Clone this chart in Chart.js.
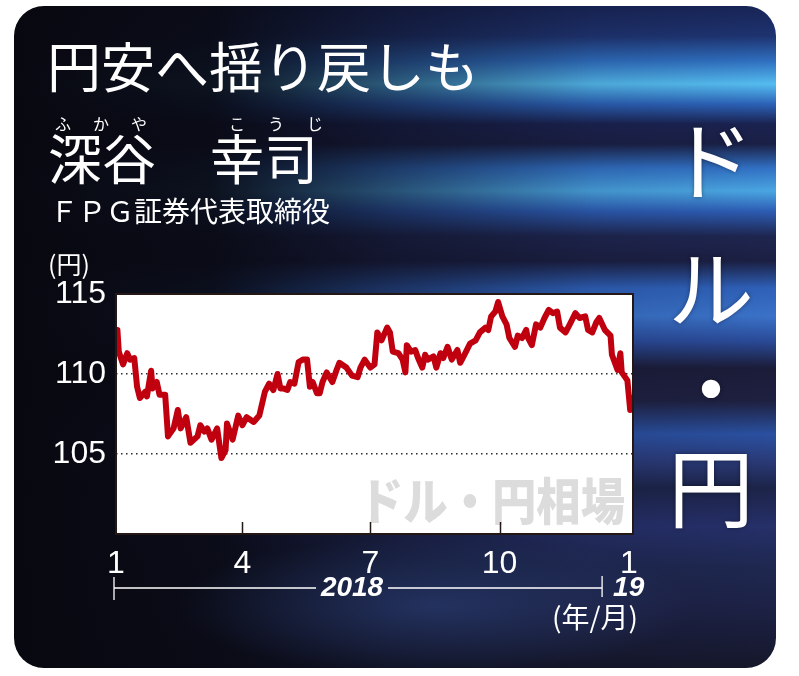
<!DOCTYPE html>
<html>
<head>
<meta charset="utf-8">
<script src="https://cdn.jsdelivr.net/npm/chart.js@4.4.1/dist/chart.umd.min.js"></script>
<style>
  body { margin: 0; background: #fff; }
  #wrap { position: relative; width: 799px; height: 676px; overflow: hidden; }
  #bg {
    position: absolute; left: 14px; top: 6px; width: 762px; height: 662px; border-radius: 30px;
    background:
      radial-gradient(ellipse 260px 70px at 420px 600px, rgba(46,70,130,0.55), rgba(46,70,130,0)),
      linear-gradient(to right, rgba(8,8,16,1) 0%, rgba(9,10,20,0.95) 26%, rgba(12,14,30,0.55) 50%, rgba(12,14,30,0.12) 76%, rgba(12,14,30,0) 100%),
      linear-gradient(to bottom, #182456 0px, #1e3370 30px, #2f6fc0 55px, #55bdf0 78px, #2c62b8 98px, #1a2250 118px, #1a2045 138px,
        #3170c4 162px, #4aa6e2 185px, #2d5db5 205px, #1e2650 230px, #1b1f42 255px, #2e60b8 282px, #3a72c8 310px,
        #2a4a98 335px, #1b1c38 362px, #1e2040 395px, #2a50a0 428px, #2a3a78 455px, #1c2448 482px, #26306a 520px,
        #1e2850 560px, #1d2246 600px, #15172a 662px);
  }
  canvas { position: absolute; left: 0; top: 0; }
  .t { position: absolute; color: #fff; font-family: "Noto Sans CJK JP", sans-serif; line-height: 1; white-space: nowrap; }
  .v { position: absolute; left: 661px; width: 100px; text-align: center; color: #fff; font-family: "Noto Sans CJK JP", sans-serif;
       font-size: 86px; line-height: 86px; text-shadow: 0 0 4px rgba(0,0,0,0.4); }
</style>
</head>
<body>
<div id="wrap">
  <div id="bg"></div>
  <canvas id="chart" width="799" height="676"></canvas>
  <div class="t" style="left:47px;top:38px;font-size:54px;">円安へ揺り戻しも</div>
  <div class="t" style="left:55px;top:115px;font-size:16px;letter-spacing:22px;">ふかや</div>
  <div class="t" style="left:229px;top:115px;font-size:16px;letter-spacing:23px;">こうじ</div>
  <div class="t" style="left:48px;top:130px;font-size:54px;">深谷　幸司</div>
  <div class="t" style="left:50px;top:196px;font-size:28px;">ＦＰＧ証券代表取締役</div>
  <div class="t" style="left:48px;top:251px;font-size:25px;">(円)</div>
  <div class="t" style="left:552px;top:602px;font-size:28px;">(年/月)</div>
  <div class="v" style="top:114px;">ド</div>
  <div class="v" style="top:242px;">ル</div>
  <div class="v" style="top:342px;">・</div>
  <div class="v" style="top:441px;">円</div>
</div>
<script>
// ドル・円相場 2018/1 - 2019/1 (日数は2018年1月1日から)
const days = [1, 2, 5, 8, 10, 13, 15, 17, 21, 22, 25, 26, 29, 31, 35, 37, 41, 44, 46, 50,
  53, 58, 60, 63, 65, 68, 72, 75, 78, 79, 83, 87, 90, 93, 98, 102, 106, 109, 112, 115,
  117, 119, 122, 124, 127, 130, 133, 136, 138, 140, 143, 145, 147, 150, 154, 157, 159, 164, 168, 172,
  174, 177, 181, 184, 186, 189, 193, 195, 197, 201, 204, 206, 207, 210, 213, 215, 218, 220, 222, 226,
  228, 231, 233, 236, 239, 243, 245, 248, 252, 256, 259, 263, 265, 267, 270, 272, 275, 278, 280, 284,
  286, 289, 292, 293, 296, 299, 302, 305, 308, 311, 314, 316, 320, 323, 327, 330, 334, 336, 339, 342,
  344, 348, 352, 353, 357, 359, 360, 364, 366, 367];
const rates = [112.75, 111.4, 110.6, 111.3, 110.9, 111.0, 109.2, 108.5, 108.9, 108.6, 110.2, 109.1, 109.5, 108.7, 108.7, 106.1, 106.6, 107.75, 106.6, 107.3,
  105.7, 106.1, 106.8, 106.4, 106.6, 105.9, 106.6, 104.75, 105.25, 106.9, 105.9, 107.4, 106.8, 107.3, 107.0, 107.4, 108.9, 109.4, 109.0, 110.0,
  109.1, 109.1, 109.0, 109.5, 109.4, 110.75, 110.9, 110.9, 109.2, 109.5, 108.8, 108.8, 109.5, 110.1, 109.5, 110.25, 110.7, 110.4, 109.9, 109.8,
  110.4, 110.9, 110.4, 110.6, 112.6, 112.1, 112.9, 112.6, 111.4, 111.3, 110.9, 110.1, 111.8, 111.4, 111.5, 111.0, 110.4, 111.2, 110.9, 111.1,
  110.4, 111.3, 111.0, 111.7, 110.9, 111.5, 110.7, 111.2, 111.9, 112.1, 112.6, 112.9, 112.75, 113.6, 113.9, 114.5, 113.6, 113.1, 112.25, 111.7,
  112.4, 112.25, 112.75, 112.3, 111.8, 113.1, 112.9, 113.5, 114.0, 113.8, 113.9, 112.9, 112.6, 113.1, 113.8, 113.5, 113.6, 112.75, 112.6, 113.25,
  113.5, 112.75, 112.4, 111.2, 110.25, 111.3, 110.1, 109.6, 107.75, 108.5];

const monthTickDays = [0, 90, 181, 273, 365];
const monthTickLabels = ['1', '4', '7', '10', '1'];
const yTicks = [105, 110, 115];
const yearLabels = ['2018', '19'];
const yearSplitDay = 346;

const framePlugin = {
    id: 'frame',
    beforeDraw(chart) {
        const { ctx, chartArea: a } = chart;
        ctx.save();
        ctx.fillStyle = '#fff';
        ctx.fillRect(a.left, a.top, a.right - a.left, a.bottom - a.top);
        ctx.restore();
    },
    beforeDatasetsDraw(chart) {
        // 透かし文字: 右端に合わせて横幅を詰める
        const { ctx, chartArea: a } = chart;
        const text = 'ドル・円相場';
        const targetW = 266;
        ctx.save();
        ctx.fillStyle = '#dcdcdc';
        ctx.font = '900 50px "Noto Sans CJK JP"';
        ctx.textAlign = 'left';
        ctx.textBaseline = 'alphabetic';
        const w = ctx.measureText(text).width;
        const sx = Math.min(1, targetW / w);
        ctx.translate(a.right - 8 - targetW, a.bottom - 14);
        ctx.scale(sx, 1);
        ctx.fillText(text, 0, 0);
        ctx.restore();
    },
    afterDatasetsDraw(chart) {
        const { ctx, chartArea: a, scales: { x } } = chart;
        ctx.save();
        ctx.strokeStyle = '#231815';
        ctx.lineWidth = 1.5;
        ctx.beginPath();
        monthTickDays.slice(1, -1).forEach(d => {
            const px = Math.round(x.getPixelForValue(d)) + 0.5;
            ctx.moveTo(px, a.bottom);
            ctx.lineTo(px, a.bottom - 12);
        });
        ctx.stroke();
        ctx.lineWidth = 2;
        ctx.strokeRect(a.left, a.top, a.right - a.left, a.bottom - a.top);
        ctx.restore();
    },
    afterDraw(chart) {
        const { ctx, chartArea: a, scales: { x } } = chart;
        const y = 588;
        const x0 = a.left - 2;
        const x1 = x.getPixelForValue(yearSplitDay);
        const mid = (x0 + x1) / 2 - 6;
        ctx.save();
        ctx.strokeStyle = '#fff';
        ctx.lineWidth = 1.3;
        ctx.beginPath();
        ctx.moveTo(x0, y); ctx.lineTo(mid - 36, y);
        ctx.moveTo(mid + 36, y); ctx.lineTo(x1, y);
        ctx.moveTo(x0, y - 11); ctx.lineTo(x0, y + 12);
        ctx.moveTo(x1, y - 12); ctx.lineTo(x1, y + 9);
        ctx.stroke();
        ctx.fillStyle = '#fff';
        ctx.font = 'italic bold 28px "Liberation Sans"';
        ctx.textBaseline = 'middle';
        ctx.textAlign = 'center';
        ctx.fillText(yearLabels[0], mid, y);
        ctx.textAlign = 'left';
        ctx.fillText(yearLabels[1], x1 + 11, y);
        ctx.restore();
    }
};

new Chart(document.getElementById('chart'), {
    type: 'line',
    data: {
        datasets: [{
            data: days.map((d, i) => ({ x: d, y: rates[i] })),
            borderColor: '#c1000f',
            borderWidth: 6,
            borderJoinStyle: 'round',
            borderCapStyle: 'round',
            pointRadius: 0,
            tension: 0
        }]
    },
    options: {
        responsive: false,
        animation: false,
        layout: { padding: { left: 0, top: 294, right: 166, bottom: 0 } },
        plugins: {
            legend: { display: false },
            tooltip: { enabled: false }
        },
        scales: {
            x: {
                type: 'linear',
                min: 0,
                max: 368,
                afterBuildTicks: s => { s.ticks = monthTickDays.map(v => ({ value: v })); },
                afterFit: s => { s.height = 142; },
                grid: { display: false },
                border: { display: false },
                ticks: {
                    color: '#fff',
                    font: { family: 'Liberation Sans', size: 32 },
                    padding: 3,
                    autoSkip: false,
                    maxRotation: 0,
                    callback: (v, i) => monthTickLabels[i]
                }
            },
            y: {
                min: 100,
                max: 115,
                afterBuildTicks: s => { s.ticks = yTicks.map(v => ({ value: v })); },
                afterFit: s => { s.width = 116; },
                grid: {
                    color: c => (c.tick && c.tick.value === 115) ? 'rgba(0,0,0,0)' : '#2a2a2a',
                    lineWidth: 1.5,
                    drawTicks: false
                },
                border: { display: false, dash: [1.5, 3.5] },
                ticks: {
                    color: '#fff',
                    font: { family: 'Liberation Sans', size: 32 },
                    padding: 10
                }
            }
        }
    },
    plugins: [framePlugin]
});
</script>
</body>
</html>
